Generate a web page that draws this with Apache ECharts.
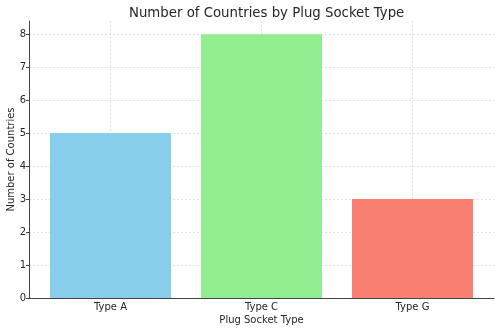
<!DOCTYPE html>
<html><head><meta charset="utf-8">
<script src="https://cdn.jsdelivr.net/npm/echarts@6/dist/echarts.min.js"></script>
<style>html,body{margin:0;padding:0;background:#fff}#c{width:500px;height:331px}</style>
</head><body><div id="c"></div>
<script>
const categories = ['Type A', 'Type C', 'Type G'];
const counts = [5, 8, 3];
const colors = ['#87CEEB', '#90EE90', '#FA8072'];
const yTicks = [0, 1, 2, 3, 4, 5, 6, 7, 8];
const title = 'Number of Countries by Plug Socket Type';
const xName = 'Plug Socket Type';
const yName = 'Number of Countries';

const font = 'DejaVu Sans';
const idx = categories.map((_, i) => i);
const chart = echarts.init(document.getElementById('c'), null, {renderer: 'canvas'});
chart.setOption({
  animation: false,
  title: {text: title, left: 124, top: 2, textStyle: {fontFamily: font, fontSize: 13.3, fontWeight: 'normal', color: '#262626'}},
  grid: {left: 29, right: 6, top: 21, bottom: 33, containLabel: false, outerBoundsMode: 'none'},
  xAxis: {
    type: 'value', min: -0.54, max: 2.54,
    name: xName, nameLocation: 'middle', nameGap: 17, nameMoveOverlap: false,
    nameTextStyle: {fontFamily: font, fontSize: 10, color: '#262626'},
    axisLine: {show: true, onZero: false, lineStyle: {color: '#444', width: 1}},
    axisTick: {show: true, inside: true, length: 3, customValues: idx, lineStyle: {color: '#444'}},
    axisLabel: {customValues: idx, formatter: v => categories[Math.round(v)] || '', fontFamily: font, fontSize: 10, color: '#262626', margin: 4},
    splitLine: {show: true, lineStyle: {type: [2, 2], color: '#dadada', width: 0.8}}
  },
  yAxis: {
    type: 'value', min: 0, max: 8.4,
    name: yName, nameLocation: 'middle', nameGap: 13, nameRotate: 90, nameMoveOverlap: false,
    nameTextStyle: {fontFamily: font, fontSize: 10, color: '#262626'},
    axisLine: {show: true, onZero: false, lineStyle: {color: '#444', width: 1}},
    axisTick: {show: true, length: 3, customValues: yTicks, lineStyle: {color: '#444'}},
    axisLabel: {customValues: yTicks, fontFamily: font, fontSize: 10, color: '#262626', margin: 3},
    splitLine: {show: true, lineStyle: {type: [2, 2], color: '#dadada', width: 0.8}}
  },
  series: [{
    type: 'bar',
    barWidth: 121,
    data: counts.map((v, i) => ({value: [i, v], itemStyle: {color: colors[i]}}))
  }]
});
</script></body></html>
